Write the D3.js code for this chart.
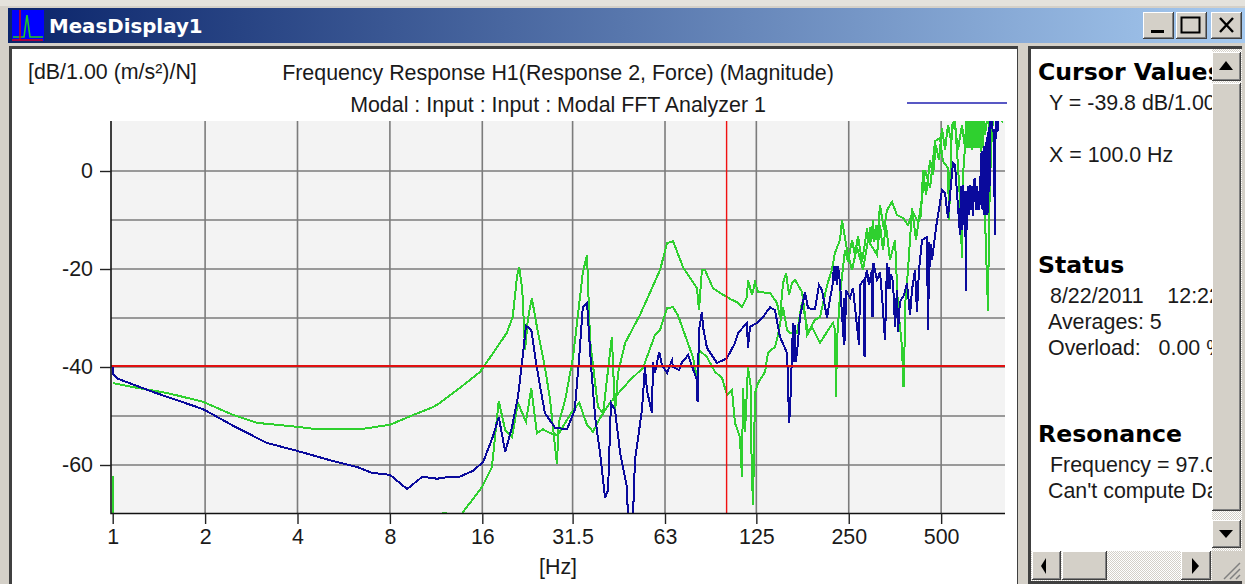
<!DOCTYPE html>
<html>
<head>
<meta charset="utf-8">
<script src="https://d3js.org/d3.v7.min.js"></script>
<style>
    html, body { margin: 0; padding: 0; background: #d4d0c8; overflow: hidden; }
    svg { display: block; }
    text { font-family: "Liberation Sans", Arial, sans-serif; fill: #1a1a1a; }
    .axis path { display: none; }
    .axis line { stroke: #222; stroke-width: 1.4; }
    .axis text { font-size: 21.4px; font-family: "Liberation Sans", Arial, sans-serif; fill: #1a1a1a; }
    .head { font-size: 23.6px; font-weight: bold; fill: #000; font-family: "DejaVu Sans", sans-serif; }
    .info { font-size: 21.4px; }
    .trace { fill: none; stroke-width: 2; shape-rendering: crispEdges; }
</style>
</head>
<body>
<div id="chart"></div>
<script>
    // tick labels and grid, [Hz] and dB
    var freqTicks = [1, 2, 4, 8, 16, 31.5, 63, 125, 250, 500];
    var freqGrid = [2, 4, 8, 16, 31.5, 63, 125, 250, 500];
    var dbTicks = [0, -20, -40, -60];
    var dbGrid = [0, -10, -20, -30, -40, -50, -60];

    var cursorHz = 100;
    var cursorDb = -39.8;

    // [Hz, dB]
    var response2 = [[1,-40],[1.006,-41.6],[1.04,-42.4],[1.353,-45.1],[1.97,-48.6],[2.47,-52],[3.18,-55.5],[3.98,-57.1],[5.22,-59.2],[6.25,-60.4],[7,-61.6],[8,-62],[9.1,-64.9],[10.2,-62.4],[11.4,-62.8],[12.55,-62.4],[13.5,-62.4],[14.9,-61.2],[16.1,-59.4],[17.3,-54.3],[18.1,-50.2],[19,-57.3],[20,-52.2],[20.9,-46.1],[21.6,-38.6],[22.2,-31.6],[23.1,-32.4],[23.8,-38],[24.7,-44.1],[25.6,-49.4],[27.6,-52.4],[30.2,-52.7],[32,-48.8],[33.1,-38],[34,-27.8],[35.1,-26.9],[36.2,-40],[37.3,-50.2],[38.7,-57.6],[40.2,-66.7],[41.1,-65.1],[42,-47.3],[43.3,-48.8],[45,-57.6],[47.4,-64.7],[47.7,-71.2],[49.5,-71.2],[50.3,-58.9],[53,-48.8],[54.2,-40],[55,-44.7],[57.1,-49.4],[57.6,-39],[58.4,-41.2],[60.3,-36.9],[61.6,-39.6],[64,-41.2],[66.4,-38.6],[66.9,-40],[70,-40.6],[71.6,-39],[74.9,-37.6],[80.1,-42.7],[80.4,-47.1],[81.3,-32.4],[83.1,-28.8],[83.8,-31.8],[86.3,-36.1],[93.1,-39.2],[100.3,-38.2],[102.6,-37],[106.5,-35.1],[108.9,-33.1],[116.5,-31],[117.4,-36.1],[119.2,-31.8],[125.6,-31],[131.4,-29.8],[138.5,-27.8],[143.7,-28.4],[149.3,-33.9],[157.3,-37.1],[158.5,-42.7],[159.7,-51.4],[161,-48.8],[164.6,-31],[165.5,-39],[167,-31.5],[167.8,-39],[169.6,-37.1],[173.4,-29.8],[180.1,-24.7],[184.2,-28],[194,-28.2],[200,-23.3],[204.5,-24.3],[212.5,-30],[215.6,-27.3],[222,-22.9],[223.5,-19.5],[225.4,-22.5],[227.2,-19.4],[229,-23.3],[230.7,-19.4],[234.1,-22.9],[241.3,-35.5],[242,-26],[243,-34.7],[245,-24.3],[252.3,-25.9],[258,-23.9],[270,-35.5],[272.1,-23.3],[280.3,-22.2],[281.4,-38],[283.5,-21.8],[286.7,-20.2],[291,-23.3],[297.7,-20.2],[298.8,-29.8],[301,-18.8],[309,-22.2],[316,-20.6],[320.8,-25.3],[328.2,-34.5],[333,-18.8],[336,-24],[338,-19.5],[340.8,-24],[343,-21],[348.5,-22.7],[353.8,-31.8],[358.9,-24.3],[361.7,-32.9],[367,-26.7],[378.4,-25.3],[387,-22.9],[395.8,-29.4],[401.7,-24.3],[410.9,-20.2],[417.2,-28.8],[423.4,-20.2],[433.1,-14.1],[449.6,-13.5],[453,-32.4],[456.5,-20.2],[458,-14.5],[460,-19.5],[462,-15],[466.9,-18.2],[481,-11.6],[503.3,-3.9],[514.7,-4.5],[526.4,-9.6],[546.3,1.6],[555,1.2],[576,-13.1],[580,-3],[584,-12],[589.3,-2.9],[593,-11],[598,-4],[600,-12],[602.6,-24.5],[605,-4],[608,-12],[611.8,-3],[615,-9],[621,-2.9],[625,-8],[630,-3],[634.9,-9.2],[640,-2],[644.6,-1.4],[648,-8],[652,-3],[656,-8],[660,-4],[665,-8],[669.2,-5.5],[674,3],[679.4,4.1],[682,-8],[685,4],[688,-9],[691,5],[694.8,-8],[698,6],[701,-9],[705.5,7],[708,-9],[710.7,8],[713,-6],[716.3,9],[720,-3],[723,10.5],[727,10.5],[732,10.5],[736,8],[741,8.5],[745,-2],[749,-13.1],[752,8],[757.2,10.5],[761,8],[766,10.5],[768,8.2]];

    var greenUpper = [[1.002,-43.3],[1.165,-44.1],[1.503,-45.3],[1.97,-47.1],[2.47,-49.8],[2.95,-51.4],[3.98,-52.2],[4.63,-52.7],[6.39,-52.7],[8,-51.8],[9.51,-49.8],[11.06,-48.2],[11.65,-47.3],[13.5,-44.3],[15.73,-41],[16.9,-38.2],[19.2,-33.1],[20.1,-29.8],[20.75,-21.6],[21.1,-19.6],[21.6,-24.3],[22.05,-36.5],[22.5,-30.4],[23.2,-25.9],[24.1,-31.8],[25.6,-40],[26.6,-46.7],[28,-59.8],[28.4,-51.4],[29.8,-46.7],[31.6,-38],[34,-20.8],[35.1,-17.1],[35.9,-34.5],[38.1,-48.2],[39.6,-49.4],[41.7,-37.1],[42.3,-33.9],[43.3,-49.4],[44.3,-41.2],[46.7,-35.1],[52.2,-29.4],[60.7,-20.2],[64,-14.7],[66.9,-14.3],[72.1,-19.6],[80.1,-23.9],[81.3,-28.4],[83.1,-20.2],[85,-20.2],[90.3,-23.9],[95.2,-24.9],[100.3,-25.7],[102.6,-26.1],[108.9,-26.9],[112.2,-27.8],[116.5,-25.7],[117.4,-22.2],[121,-25.3],[123.8,-22.7],[126.5,-24.7],[138.5,-24.9],[145.9,-26.9],[149.3,-29.8],[152.7,-22.9],[156.2,-20.8],[159.7,-25.3],[163.3,-22.9],[167,-22.2],[176.1,-24.7],[180.1,-29.4],[182.8,-33.5],[189.8,-31.8],[201.5,-35.1],[206.1,-34.1],[222,-31],[225.4,-32.4],[227.2,-46.1],[229,-34.5],[234.1,-25.3],[243,-16.1],[248.7,-18.6],[256.2,-14.1],[262,-17.1],[268,-13.3],[276.3,-18.6],[287,-11.6],[290,-14.5],[293,-11.5],[296,-14.5],[299.8,-10],[303,-14.5],[306.6,-11],[310,-14],[316,-6.9],[325.6,-12],[333,-8],[345.9,-6.3],[358.9,-9],[375.6,-9.6],[389.9,-11],[404.7,-8.4],[420.4,-10.4],[429.8,-9.2],[436.5,0.2],[446.5,-4.9],[460,2.2],[470.5,-0.8],[481,5.3],[491.8,2.2],[503.3,8.8],[514.7,4.3],[526.4,9.4],[538,6.3],[550.9,10.8],[567.3,4.3],[584.7,9.4],[598,4.7],[603,10.8],[607.2,4.7],[611,10.8],[615.9,4.7],[620,10.8],[625.7,4.7],[630,10.8],[634.9,4.7],[640,10.8],[644.6,4.7],[649,10.8],[654.3,4.7],[659,10.8],[664,4.7],[669,10.8],[674.3,4.7],[679,10.8],[684.5,4.7],[690,10.8],[694.8,7.3],[705.5,10.8],[721.4,8.4],[737.8,10.8],[766,10.8],[795,10]];

    var greenLower = [[1,-62.2],[1.005,-72],[11.7,-72],[11.9,-69.7],[12.2,-69.7],[12.4,-72],[13.4,-72],[13.85,-69.6],[15.96,-64.5],[17.2,-60.4],[18.1,-46.9],[19,-52.9],[20,-54.3],[20.9,-47.3],[22.2,-51.2],[23.1,-44.3],[24.1,-53.5],[25.2,-52.7],[26.6,-53.5],[28.2,-53.9],[31.3,-49.2],[33.1,-47.3],[35.1,-51.8],[36.7,-53.2],[38.7,-50.4],[41.7,-47.3],[48.4,-42.7],[53.4,-40.2],[58.4,-33.5],[60.7,-32.4],[64,-28],[66.9,-27.8],[69.4,-29.4],[77.7,-38],[80.7,-43.3],[81.3,-36.5],[86.3,-38],[91.7,-41],[96.6,-42.2],[100.3,-45.7],[104.1,-44.7],[106.5,-51.4],[110.5,-54.3],[112.2,-62.4],[113.1,-44.3],[114.8,-53.3],[117.4,-40],[120.1,-44.3],[120.6,-59.4],[121.9,-68.2],[123.8,-45.3],[126.5,-43.3],[133.4,-41],[136.4,-37.1],[143.7,-35.9],[147.1,-33.5],[152.7,-27.8],[157.3,-32.4],[161,-33.1],[169.6,-33.1],[176.1,-26.7],[184.2,-32.9],[194,-30.4],[201.5,-29.8],[212.5,-23.3],[220.3,-20.2],[225.4,-16.7],[234.1,-14.1],[237.8,-10],[246.8,-16.1],[256.2,-20.2],[266,-15.5],[278.3,-20.2],[288.8,-14.1],[309,-17.1],[316,-11],[323.3,-16.1],[330.5,-11],[340.8,-18.2],[353.8,-14.1],[361.7,-27.8],[372.7,-35.9],[377,-44.1],[380,-35.5],[381,-27.8],[389.9,-20.2],[395.8,-14.1],[401.7,-7.6],[414,-14.1],[433.1,-5.5],[443,0.2],[460,-3.5],[477.5,6.1],[495.6,6.7],[506.9,2],[526.4,0.6],[530.4,-10],[542.3,9.4],[555,10.2],[563.2,4.1],[576,-5.9],[584.7,-17.8],[589.3,-0.8],[607,10.8],[630.3,4.3],[654.3,9.4],[684.5,2.2],[694.8,-9.6],[710.7,-28.6],[716.3,-9.6],[727,4.3],[737.8,10.8]];

    var svg = d3.select("#chart").append("svg")
        .attr("width", 1245).attr("height", 584);

    var defs = svg.append("defs");
    var grad = defs.append("linearGradient").attr("id", "titleGrad");
    grad.append("stop").attr("offset", "0%").attr("stop-color", "#0a246a");
    grad.append("stop").attr("offset", "100%").attr("stop-color", "#a6caf0");
    defs.append("clipPath").attr("id", "plotClip").append("rect")
        .attr("x", 111).attr("y", 121).attr("width", 894).attr("height", 392);
    defs.append("clipPath").attr("id", "infoClip").append("rect")
        .attr("x", 1030).attr("y", 48).attr("width", 182).attr("height", 503);
    var pat = defs.append("pattern").attr("id", "dither").attr("width", 2).attr("height", 2)
        .attr("patternUnits", "userSpaceOnUse");
    pat.append("rect").attr("width", 2).attr("height", 2).attr("fill", "#fff");
    pat.append("rect").attr("width", 1).attr("height", 1).attr("fill", "#d4d0c8");
    pat.append("rect").attr("x", 1).attr("y", 1).attr("width", 1).attr("height", 1).attr("fill", "#d4d0c8");

    function box(x, y, w, h, fill) {
        return svg.append("rect").attr("x", x).attr("y", y).attr("width", w).attr("height", h).attr("fill", fill);
    }

    // raised windows button
    function button(x, y, w, h) {
        box(x, y, w, h, "#404040");
        box(x, y, w - 1, h - 1, "#ffffff");
        box(x + 1, y + 1, w - 2, h - 2, "#808080");
        box(x + 1, y + 1, w - 3, h - 3, "#d4d0c8");
    }

    // title bar
    box(0, 0, 1245, 6, "#e4e2dc");
    box(8, 8, 1237, 35, "url(#titleGrad)");
    box(12, 10, 32, 31, "#0000ff");
    svg.append("path").attr("d", "M13 37H24L27 15L30 37H43").attr("fill", "none").attr("stroke", "#22cc22").attr("stroke-width", 1.6);
    svg.append("path").attr("d", "M12 40H43M20 10V40").attr("fill", "none").attr("stroke", "#e00000").attr("stroke-width", 1.4);
    svg.append("text").attr("x", 49).attr("y", 33)
        .style("font-family", "'DejaVu Sans', sans-serif").style("font-weight", "bold")
        .style("font-size", "19.8px").style("fill", "#fff").text("MeasDisplay1");

    button(1143, 12, 31, 27);
    button(1176, 12, 31, 27);
    button(1211, 12, 31, 27);
    box(1151, 30, 13, 3, "#000");
    svg.append("rect").attr("x", 1181.5).attr("y", 17.5).attr("width", 18).attr("height", 15)
        .attr("fill", "none").attr("stroke", "#000").attr("stroke-width", 2);
    svg.append("path").attr("d", "M1220 18L1233 32M1233 18L1220 32").attr("stroke", "#000").attr("stroke-width", 2.4);

    // panels
    box(9, 46, 1009, 538, "#404040");
    box(12, 49, 1005, 535, "#ffffff");
    box(1028, 46, 214, 538, "#404040");
    box(1031, 49, 181, 502, "#ffffff");

    // scales: 1 Hz sits just right of the axis, 800 Hz at the end of the frame
    var x = d3.scaleLog().base(2).domain([1, 800]).range([112.7, 1003.8]);
    var y = d3.scaleLinear().domain([10, -70]).range([122, 514]);

    box(111, 121, 894, 392, "#f3f3f3");

    var grid = svg.append("g").attr("stroke", "#7b7b7b").attr("stroke-width", 1.6);
    grid.selectAll(".gx").data(freqGrid).enter().append("line")
        .attr("x1", function (d) { return x(d); }).attr("x2", function (d) { return x(d); })
        .attr("y1", 121).attr("y2", 513);
    grid.selectAll(".gy").data(dbGrid).enter().append("line")
        .attr("x1", 111).attr("x2", 1005)
        .attr("y1", function (d) { return y(d); }).attr("y2", function (d) { return y(d); });

    var line = d3.line()
        .x(function (d) { return x(d[0]); })
        .y(function (d) { return y(d[1]); });

    var plot = svg.append("g").attr("clip-path", "url(#plotClip)");
    [greenUpper, greenLower].forEach(function (s) {
        plot.append("path").attr("class", "trace").attr("d", line(s)).attr("stroke", "#2fd02f");
    });
    plot.append("path").attr("class", "trace").attr("d", line(response2)).attr("stroke", "#0a0a9c");

    plot.append("line").attr("x1", x(cursorHz)).attr("x2", x(cursorHz)).attr("y1", 121).attr("y2", 513)
        .attr("stroke", "#f01010").attr("stroke-width", 1.4);
    plot.append("line").attr("x1", 111).attr("x2", 1005).attr("y1", y(cursorDb)).attr("y2", y(cursorDb))
        .attr("stroke", "#e01010").attr("stroke-width", 2.2);

    // axes
    svg.append("path").attr("d", "M111 121V513.5H1005").attr("fill", "none")
        .attr("stroke", "#111").attr("stroke-width", 1.6);

    svg.append("g").attr("class", "axis").attr("transform", "translate(111,0)")
        .call(d3.axisLeft(y).tickValues(dbTicks).tickSize(11).tickPadding(7).tickFormat(function (d) { return String(d); }));

    svg.append("g").attr("class", "axis").attr("transform", "translate(0,513)")
        .call(d3.axisBottom(x).tickValues(freqTicks).tickSize(11).tickPadding(5).tickFormat(function (d) { return d; }));

    svg.append("text").attr("x", 558).attr("y", 574).attr("text-anchor", "middle").style("font-size", "21.4px").text("[Hz]");

    // header texts
    svg.append("text").attr("x", 28).attr("y", 79).style("font-size", "21.4px").text("[dB/1.00 (m/s²)/N]");
    svg.append("text").attr("x", 558).attr("y", 80).attr("text-anchor", "middle").style("font-size", "21.4px")
        .text("Frequency Response H1(Response 2, Force) (Magnitude)");
    svg.append("text").attr("x", 558).attr("y", 112).attr("text-anchor", "middle").style("font-size", "21.4px")
        .text("Modal : Input : Input : Modal FFT Analyzer 1");
    svg.append("line").attr("x1", 907).attr("x2", 1007).attr("y1", 103).attr("y2", 103)
        .attr("stroke", "#2020b0").attr("stroke-width", 1.5);

    // info pane on the right, cut off by its scroll bars
    var info = svg.append("g").attr("clip-path", "url(#infoClip)");
    var infoRows = [
        ["head", 1038, 80, "Cursor Values"],
        ["info", 1049, 110, "Y = -39.8 dB/1.00 (m/s²)/N"],
        ["info", 1049, 162, "X = 100.0 Hz"],
        ["head", 1038, 273, "Status"],
        ["info", 1050, 303, "8/22/2011    12:22:10"],
        ["info", 1048, 329, "Averages: 5"],
        ["info", 1048, 355, "Overload:   0.00 %"],
        ["head", 1038, 442, "Resonance"],
        ["info", 1050, 472, "Frequency = 97.0 Hz"],
        ["info", 1048, 498, "Can't compute Damping"]
    ];
    info.selectAll("text").data(infoRows).enter().append("text")
        .attr("class", function (d) { return d[0]; })
        .attr("x", function (d) { return d[1]; })
        .attr("y", function (d) { return d[2]; })
        .style("white-space", "pre")
        .text(function (d) { return d[3]; });

    // scroll bars
    box(1212, 49, 30, 502, "url(#dither)");
    box(1031, 551, 181, 30, "url(#dither)");
    button(1212, 52, 29, 29);
    button(1212, 83, 29, 428);
    button(1212, 520, 29, 28);
    button(1032, 551, 29, 29);
    button(1062, 551, 45, 29);
    button(1181, 551, 30, 29);
    box(1212, 551, 30, 30, "#d4d0c8");
    svg.append("path").attr("d", "M1226 61L1219 70H1233Z M1226 538L1219 530H1233Z M1046 558L1046 574L1041 566Z M1192 558L1192 574L1199 566Z").attr("fill", "#000");
    svg.append("path").attr("d", "M1240 563L1224 579M1240 569L1230 579M1240 575L1236 579").attr("stroke", "#808080").attr("stroke-width", 1.5);
</script>
</body>
</html>
